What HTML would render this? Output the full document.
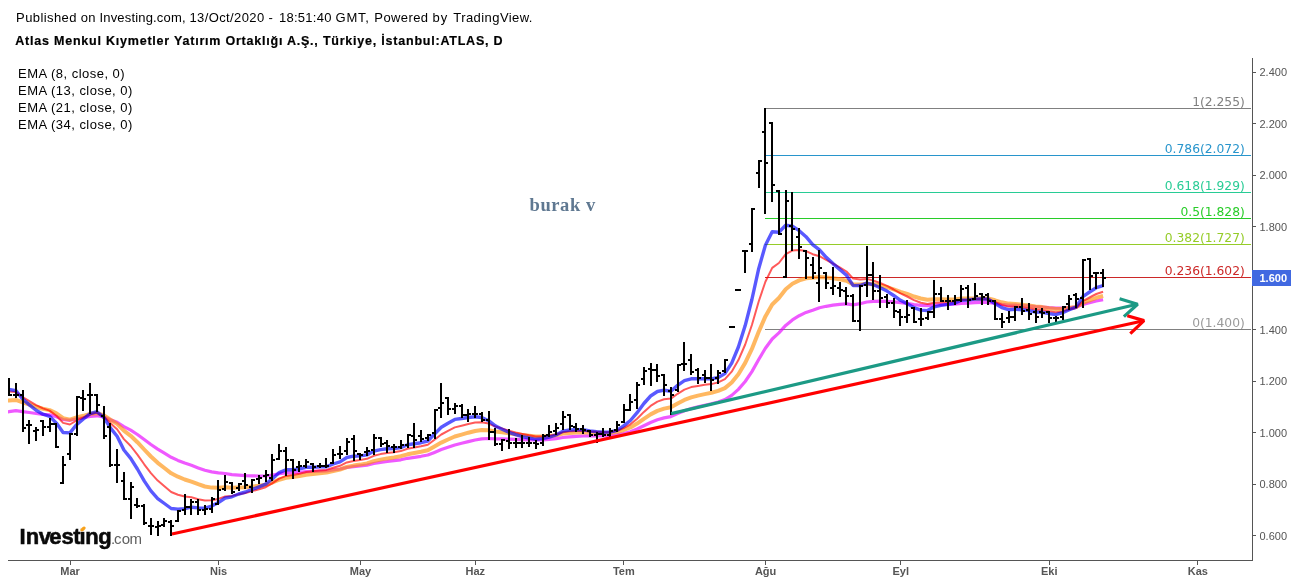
<!DOCTYPE html>
<html><head><meta charset="utf-8"><title>ATLAS chart</title>
<style>
html,body{margin:0;padding:0;background:#fff;}
body{width:1298px;height:584px;overflow:hidden;position:relative;}
svg{position:absolute;left:0;top:0;display:block;}
</style></head><body>
<svg width="1298" height="584" viewBox="0 0 1298 584">
<rect width="1298" height="584" fill="#fff"/>
<g font-family="Liberation Sans, Arial, sans-serif" fill="#000">
<text id="h1" y="21.8" font-size="13" xml:space="preserve"><tspan x="16.1" letter-spacing="0.4">Published </tspan><tspan x="80.8" letter-spacing="0.2">on </tspan><tspan x="99.5" letter-spacing="0.17">Investing.com, </tspan><tspan x="189.4" letter-spacing="0.4">13/Oct/2020 </tspan><tspan x="268.6" letter-spacing="0.3">- </tspan><tspan x="279" letter-spacing="0.26">18:51:40 </tspan><tspan x="335.5" letter-spacing="0.8">GMT, </tspan><tspan x="374.3" letter-spacing="0.41">Powered </tspan><tspan x="432.5" letter-spacing="0.9">by </tspan><tspan x="453.3" letter-spacing="0.43">TradingView.</tspan></text>
<text id="h2" x="15.3" y="44.8" font-size="12.5" font-weight="bold" letter-spacing="0.78" stroke="#000" stroke-width="0.2">Atlas Menkul Kıymetler Yatırım Ortaklığı A.Ş., Türkiye, İstanbul:ATLAS, D</text>
<text id="e1" x="18.1" y="78" font-size="13" letter-spacing="0.47">EMA (8, close, 0)</text>
<text id="e2" x="18.1" y="94.8" font-size="13" letter-spacing="0.47">EMA (13, close, 0)</text>
<text id="e3" x="18.1" y="111.8" font-size="13" letter-spacing="0.47">EMA (21, close, 0)</text>
<text id="e4" x="18.1" y="128.8" font-size="13" letter-spacing="0.47">EMA (34, close, 0)</text>
</g>
<text id="bv" x="529.5" y="210.5" font-family="Liberation Serif, Times New Roman, serif" font-weight="bold" font-size="18.5" letter-spacing="0.6" fill="#5f7891">burak v</text>
<g shape-rendering="crispEdges" stroke-width="1">
<line x1="765" y1="108.5" x2="1251" y2="108.5" stroke="#808080"/>
<line x1="765" y1="155.5" x2="1251" y2="155.5" stroke="#2895cc"/>
<line x1="765" y1="192.5" x2="1251" y2="192.5" stroke="#28cc95"/>
<line x1="765" y1="218.5" x2="1251" y2="218.5" stroke="#28cc28"/>
<line x1="765" y1="244.5" x2="1251" y2="244.5" stroke="#95cc28"/>
<line x1="765" y1="277.5" x2="1251" y2="277.5" stroke="#cc2828"/>
<line x1="765" y1="329.5" x2="1251" y2="329.5" stroke="#808080"/>
</g>
<g font-family="DejaVu Sans, Verdana, sans-serif" font-size="12.3" text-anchor="end">
<text x="1244.8" y="105.9" fill="#808080">1(2.255)</text>
<text x="1244.8" y="152.9" fill="#2895cc">0.786(2.072)</text>
<text x="1244.8" y="189.9" fill="#28cc95">0.618(1.929)</text>
<text x="1244.8" y="215.9" fill="#28cc28">0.5(1.828)</text>
<text x="1244.8" y="241.9" fill="#95cc28">0.382(1.727)</text>
<text x="1244.8" y="274.9" fill="#cc2828">0.236(1.602)</text>
<text x="1244.8" y="326.9" fill="#9a9a9a">0(1.400)</text>
</g>
<defs><clipPath id="cp"><rect x="8" y="58" width="1244" height="502"/></clipPath></defs>
<g clip-path="url(#cp)">
<g fill="none" stroke-linejoin="round" stroke-linecap="butt">
<polyline points="7,412.0 9.1,411.7 15.9,410.7 22.6,411.7 29.4,412.5 36.1,413.5 42.9,414.3 49.6,414.8 56.4,416.7 63.1,419.5 69.9,420.3 76.6,418.9 83.4,417.8 90.1,416.5 96.9,415.8 103.6,417.0 110.4,419.7 117.1,422.3 123.9,426.7 130.7,430.2 137.4,434.5 144.2,439.5 150.9,444.5 157.7,449.1 164.4,453.2 171.2,457.3 177.9,460.4 184.7,463.1 191.4,465.3 198.2,467.9 204.9,470.3 211.7,471.9 218.4,472.9 225.2,473.5 231.9,474.6 238.7,475.1 245.5,475.7 252.2,475.9 259.0,476.0 265.7,476.0 272.5,475.0 279.2,473.7 286.0,472.9 292.7,472.7 299.5,472.3 306.2,471.7 313.0,471.4 319.7,471.1 326.5,470.8 333.2,469.9 340.0,469.0 346.8,467.5 353.5,466.6 360.3,465.9 367.0,465.1 373.8,463.5 380.5,462.4 387.3,461.5 394.0,460.7 400.8,459.8 407.5,458.3 414.3,457.3 421.0,456.3 427.8,455.0 434.5,452.4 441.3,449.6 448.0,447.3 454.8,445.0 461.6,443.3 468.3,441.6 475.1,440.0 481.8,438.9 488.6,438.5 495.3,438.8 502.1,438.9 508.8,439.2 515.6,439.4 522.3,439.6 529.1,439.8 535.8,440.0 542.6,439.8 549.3,439.3 556.1,438.7 562.8,437.5 569.6,436.8 576.4,436.4 583.1,436.0 589.9,435.9 596.6,435.8 603.4,435.8 610.1,435.5 616.9,434.9 623.6,433.5 630.4,431.7 637.1,429.0 643.9,425.7 650.6,422.5 657.4,419.8 664.1,417.9 670.9,416.6 677.6,413.6 684.4,410.8 691.2,408.6 697.9,406.9 704.7,405.2 711.4,403.8 718.2,402.0 724.9,399.6 731.7,395.4 738.4,389.4 745.2,381.5 751.9,371.6 758.7,359.5 765.4,348.3 772.2,339.0 778.9,332.9 785.7,325.4 792.4,319.9 799.2,315.7 806.0,312.4 812.7,310.2 819.5,307.7 826.2,306.3 833.0,305.2 839.7,304.3 846.5,303.8 853.2,304.8 860.0,303.7 866.7,302.0 873.5,301.4 880.2,301.2 887.0,301.3 893.7,301.8 900.5,302.7 907.2,303.4 914.0,304.5 920.8,305.3 927.5,305.7 934.3,305.0 941.0,304.7 947.8,304.5 954.5,304.2 961.3,303.4 968.0,303.2 974.8,302.7 981.5,302.4 988.3,302.3 995.0,303.3 1001.8,304.3 1008.5,305.1 1015.3,305.2 1022.1,305.5 1028.8,306.0 1035.6,306.6 1042.3,307.0 1049.1,307.7 1055.8,308.2 1062.6,308.1 1069.3,307.6 1076.1,307.1 1082.8,304.4 1089.6,302.8 1096.3,301.0 1103.1,299.7" stroke="#e600ff" stroke-opacity="0.65" stroke-width="3.2"/>
<polyline points="7,400.6 9.1,400.4 15.9,399.9 22.6,402.4 29.4,404.5 36.1,406.8 42.9,408.7 49.6,410.1 56.4,413.4 63.1,418.2 69.9,419.6 76.6,417.5 83.4,415.8 90.1,413.9 96.9,413.1 103.6,415.2 110.4,419.7 117.1,423.9 123.9,430.7 130.7,435.8 137.4,442.2 144.2,449.5 150.9,456.5 157.7,462.8 164.4,468.0 171.2,473.3 177.9,476.7 184.7,479.5 191.4,481.6 198.2,484.2 204.9,486.5 211.7,487.6 218.4,487.8 225.2,487.3 231.9,487.8 238.7,487.4 245.5,487.2 252.2,486.6 259.0,485.8 265.7,484.8 272.5,482.5 279.2,479.7 286.0,477.8 292.7,477.1 299.5,476.1 306.2,474.8 313.0,474.1 319.7,473.3 326.5,472.6 333.2,471.0 340.0,469.5 346.8,467.0 353.5,465.6 360.3,464.6 367.0,463.4 373.8,461.1 380.5,459.6 387.3,458.4 394.0,457.4 400.8,456.2 407.5,454.3 414.3,453.0 421.0,451.7 427.8,450.2 434.5,446.5 441.3,442.6 448.0,439.5 454.8,436.5 461.6,434.6 468.3,432.7 475.1,431.0 481.8,430.0 488.6,430.2 495.3,431.5 502.1,432.3 508.8,433.3 515.6,434.2 522.3,435.0 529.1,435.7 535.8,436.5 542.6,436.4 549.3,436.0 556.1,435.3 562.8,433.6 569.6,433.0 576.4,432.6 583.1,432.4 589.9,432.6 596.6,432.7 603.4,432.9 610.1,432.7 616.9,432.0 623.6,430.0 630.4,427.4 637.1,423.6 643.9,418.8 650.6,414.4 657.4,410.9 664.1,408.6 670.9,407.3 677.6,403.5 684.4,399.9 691.2,397.4 697.9,395.6 704.7,394.1 711.4,392.8 718.2,390.9 724.9,388.1 731.7,382.5 738.4,374.2 745.2,362.9 751.9,348.9 758.7,331.8 765.4,316.4 772.2,304.5 778.9,298.0 785.7,289.2 792.4,283.7 799.2,280.4 806.0,278.3 812.7,277.8 819.5,276.9 826.2,277.5 833.0,278.2 839.7,279.3 846.5,280.8 853.2,284.5 860.0,284.6 866.7,283.7 873.5,284.3 880.2,285.5 887.0,287.1 893.7,289.3 900.5,291.8 907.2,293.9 914.0,296.5 920.8,298.5 927.5,299.7 934.3,299.2 941.0,299.3 947.8,299.4 954.5,299.4 961.3,298.5 968.0,298.6 974.8,298.4 981.5,298.3 988.3,298.5 995.0,300.3 1001.8,302.3 1008.5,303.6 1015.3,304.0 1022.1,304.7 1028.8,305.5 1035.6,306.5 1042.3,307.1 1049.1,308.2 1055.8,309.0 1062.6,308.8 1069.3,307.9 1076.1,307.1 1082.8,302.8 1089.6,300.3 1096.3,297.8 1103.1,296.0" stroke="#ff8c00" stroke-opacity="0.62" stroke-width="4"/>
<polyline points="7,391.4 9.1,391.5 15.9,391.9 22.6,397.1 29.4,401.2 36.1,405.2 42.9,408.4 49.6,410.6 56.4,415.8 63.1,422.9 69.9,424.5 76.6,420.5 83.4,417.4 90.1,414.2 96.9,412.8 103.6,416.2 110.4,423.2 117.1,429.2 123.9,439.1 130.7,446.0 137.4,454.6 144.2,464.3 150.9,473.1 157.7,480.6 164.4,486.3 171.2,492.0 177.9,494.7 184.7,496.5 191.4,497.3 198.2,499.2 204.9,500.6 211.7,500.3 218.4,498.9 225.2,496.5 231.9,495.9 238.7,494.3 245.5,493.0 252.2,491.1 259.0,489.2 265.7,487.2 272.5,483.2 279.2,478.7 286.0,475.9 292.7,475.1 299.5,473.8 306.2,472.0 313.0,471.3 319.7,470.5 326.5,469.9 333.2,467.7 340.0,465.8 346.8,462.4 353.5,460.9 360.3,460.0 367.0,458.8 373.8,455.8 380.5,454.1 387.3,453.0 394.0,452.2 400.8,451.1 407.5,448.8 414.3,447.6 421.0,446.3 427.8,444.7 434.5,439.7 441.3,434.5 448.0,430.9 454.8,427.4 461.6,425.7 468.3,424.0 475.1,422.6 481.8,422.2 488.6,423.6 495.3,426.5 502.1,428.5 508.8,430.6 515.6,432.4 522.3,433.9 529.1,435.3 535.8,436.5 542.6,436.4 549.3,435.8 556.1,434.6 562.8,432.2 569.6,431.3 576.4,431.0 583.1,430.8 589.9,431.4 596.6,431.8 603.4,432.2 610.1,432.0 616.9,431.0 623.6,428.0 630.4,424.3 637.1,418.7 643.9,411.9 650.6,405.9 657.4,401.6 664.1,399.3 670.9,398.6 677.6,393.8 684.4,389.6 691.2,387.1 697.9,385.9 704.7,384.8 711.4,384.1 718.2,382.4 724.9,379.2 731.7,371.7 738.4,360.1 745.2,344.5 751.9,325.0 758.7,301.5 765.4,281.7 772.2,267.9 778.9,263.0 785.7,254.1 792.4,250.6 799.2,250.1 806.0,251.1 812.7,254.2 819.5,256.2 826.2,260.0 833.0,263.7 839.7,267.4 846.5,271.5 853.2,278.6 860.0,279.6 866.7,278.9 873.5,280.6 880.2,283.0 887.0,285.9 893.7,289.5 900.5,293.4 907.2,296.5 914.0,300.1 920.8,302.8 927.5,304.1 934.3,302.7 941.0,302.4 947.8,302.1 954.5,301.7 961.3,300.0 968.0,299.9 974.8,299.3 981.5,299.1 988.3,299.3 995.0,302.0 1001.8,304.9 1008.5,306.6 1015.3,306.7 1022.1,307.4 1028.8,308.3 1035.6,309.6 1042.3,310.1 1049.1,311.3 1055.8,312.2 1062.6,311.4 1069.3,309.6 1076.1,308.0 1082.8,301.1 1089.6,297.5 1096.3,294.0 1103.1,291.7" stroke="#ff0000" stroke-opacity="0.65" stroke-width="2"/>
<polyline points="7,389.2 9.1,389.5 15.9,390.6 22.6,399.0 29.4,404.9 36.1,410.3 42.9,414.2 49.6,416.3 56.4,423.1 63.1,432.5 69.9,432.9 76.6,424.7 83.4,419.0 90.1,413.7 96.9,411.7 103.6,417.1 110.4,427.9 117.1,436.2 123.9,450.0 130.7,458.3 137.4,469.0 144.2,480.9 150.9,490.9 157.7,498.6 164.4,503.5 171.2,508.5 177.9,509.1 184.7,508.7 191.4,507.2 198.2,507.9 204.9,508.2 211.7,506.1 218.4,502.6 225.2,498.0 231.9,496.8 238.7,494.0 245.5,492.0 252.2,489.4 259.0,486.8 265.7,484.1 272.5,478.7 279.2,472.6 286.0,469.7 292.7,469.7 299.5,468.9 306.2,467.3 313.0,467.2 319.7,466.9 326.5,466.7 333.2,464.0 340.0,461.9 346.8,457.5 353.5,456.2 360.3,455.9 367.0,454.9 373.8,451.1 380.5,449.6 387.3,448.8 394.0,448.5 400.8,447.6 407.5,444.8 414.3,443.8 421.0,442.7 427.8,441.0 434.5,434.0 441.3,427.2 448.0,423.2 454.8,419.4 461.6,418.5 468.3,417.5 475.1,416.8 481.8,417.5 488.6,420.7 495.3,425.9 502.1,429.2 508.8,432.3 515.6,434.7 522.3,436.6 529.1,438.0 535.8,439.3 542.6,438.6 549.3,437.1 556.1,435.0 562.8,431.1 569.6,430.0 576.4,429.8 583.1,429.8 589.9,430.9 596.6,431.7 603.4,432.3 610.1,432.0 616.9,430.4 623.6,425.9 630.4,420.5 637.1,412.7 643.9,403.5 650.6,396.0 657.4,391.5 664.1,390.2 670.9,391.2 677.6,385.3 684.4,380.7 691.2,378.8 697.9,378.7 704.7,378.6 711.4,378.9 718.2,377.5 724.9,373.6 731.7,363.1 738.4,347.0 745.2,325.6 751.9,299.5 758.7,268.7 765.4,245.2 772.2,231.8 778.9,232.2 785.7,225.2 792.4,226.1 799.2,230.7 806.0,236.7 812.7,244.7 819.5,249.9 826.2,257.3 833.0,263.6 839.7,269.4 846.5,275.3 853.2,285.6 860.0,285.5 866.7,283.1 873.5,284.8 880.2,287.7 887.0,291.1 893.7,295.5 900.5,300.3 907.2,303.6 914.0,307.6 920.8,310.1 927.5,310.6 934.3,306.8 941.0,305.4 947.8,304.4 954.5,303.3 961.3,300.2 968.0,300.0 974.8,299.1 981.5,298.8 988.3,299.2 995.0,303.5 1001.8,307.6 1008.5,309.7 1015.3,309.2 1022.1,309.7 1028.8,310.6 1035.6,312.0 1042.3,312.3 1049.1,313.6 1055.8,314.6 1062.6,312.7 1069.3,309.7 1076.1,307.2 1082.8,296.7 1089.6,292.0 1096.3,287.7 1103.1,285.6" stroke="#0000ff" stroke-opacity="0.65" stroke-width="3.4"/>
</g>
<path id="bars" fill="#000" shape-rendering="crispEdges" d="M8 378h2v18h-2zM6 390h2v2h-2zM10 394h2v2h-2zM15 383h2v15h-2zM13 394h2v2h-2zM17 394h2v2h-2zM22 390h2v42h-2zM20 394h2v2h-2zM24 427h2v2h-2zM28 420h2v24h-2zM26 424h2v2h-2zM30 424h2v2h-2zM35 427h2v14h-2zM33 430h2v2h-2zM37 429h2v2h-2zM42 420h2v16h-2zM40 420h2v2h-2zM44 426h2v2h-2zM49 418h2v14h-2zM47 426h2v2h-2zM51 423h2v2h-2zM55 423h2v25h-2zM53 423h2v2h-2zM57 446h2v2h-2zM62 456h2v28h-2zM60 482h2v2h-2zM64 464h2v2h-2zM69 433h2v27h-2zM67 453h2v2h-2zM71 433h2v2h-2zM76 396h2v40h-2zM74 433h2v2h-2zM78 396h2v2h-2zM82 390h2v21h-2zM80 397h2v2h-2zM84 398h2v2h-2zM89 383h2v31h-2zM87 394h2v2h-2zM91 394h2v2h-2zM96 394h2v18h-2zM94 394h2v2h-2zM98 404h2v2h-2zM103 406h2v33h-2zM101 415h2v2h-2zM105 435h2v2h-2zM109 423h2v44h-2zM107 426h2v2h-2zM111 464h2v2h-2zM116 449h2v34h-2zM114 464h2v2h-2zM118 464h2v2h-2zM123 472h2v28h-2zM121 480h2v2h-2zM125 498h2v2h-2zM130 482h2v37h-2zM128 498h2v2h-2zM132 486h2v2h-2zM136 498h2v10h-2zM134 504h2v2h-2zM138 505h2v2h-2zM143 504h2v21h-2zM141 505h2v2h-2zM145 522h2v2h-2zM150 518h2v17h-2zM148 525h2v2h-2zM152 525h2v2h-2zM157 521h2v15h-2zM155 526h2v2h-2zM159 525h2v2h-2zM163 518h2v9h-2zM161 524h2v2h-2zM165 520h2v2h-2zM170 520h2v16h-2zM168 521h2v2h-2zM172 525h2v2h-2zM177 510h2v12h-2zM175 520h2v2h-2zM179 510h2v2h-2zM184 494h2v21h-2zM182 509h2v2h-2zM186 506h2v2h-2zM190 499h2v16h-2zM188 506h2v2h-2zM192 501h2v2h-2zM197 499h2v16h-2zM195 501h2v2h-2zM199 509h2v2h-2zM204 505h2v10h-2zM202 509h2v2h-2zM206 508h2v2h-2zM211 497h2v16h-2zM209 508h2v2h-2zM213 498h2v2h-2zM217 480h2v25h-2zM215 503h2v2h-2zM219 489h2v2h-2zM224 475h2v16h-2zM222 488h2v2h-2zM226 481h2v2h-2zM231 482h2v12h-2zM229 482h2v2h-2zM233 491h2v2h-2zM238 483h2v8h-2zM236 487h2v2h-2zM240 483h2v2h-2zM244 473h2v16h-2zM242 480h2v2h-2zM246 484h2v2h-2zM251 479h2v14h-2zM249 486h2v2h-2zM253 479h2v2h-2zM258 475h2v9h-2zM256 478h2v2h-2zM260 477h2v2h-2zM265 470h2v12h-2zM263 475h2v2h-2zM267 474h2v2h-2zM271 454h2v27h-2zM269 477h2v2h-2zM273 459h2v2h-2zM278 444h2v16h-2zM276 458h2v2h-2zM280 450h2v2h-2zM285 447h2v29h-2zM283 450h2v2h-2zM287 459h2v2h-2zM292 459h2v20h-2zM290 459h2v2h-2zM294 469h2v2h-2zM298 461h2v11h-2zM296 466h2v2h-2zM300 465h2v2h-2zM305 459h2v9h-2zM303 465h2v2h-2zM307 461h2v2h-2zM312 463h2v9h-2zM310 463h2v2h-2zM314 466h2v2h-2zM319 463h2v5h-2zM317 465h2v2h-2zM321 465h2v2h-2zM325 458h2v10h-2zM323 465h2v2h-2zM327 465h2v2h-2zM332 449h2v15h-2zM330 462h2v2h-2zM334 454h2v2h-2zM339 446h2v13h-2zM337 453h2v2h-2zM341 453h2v2h-2zM346 438h2v17h-2zM344 450h2v2h-2zM348 441h2v2h-2zM353 435h2v26h-2zM351 438h2v2h-2zM355 450h2v2h-2zM359 453h2v7h-2zM357 453h2v2h-2zM361 454h2v2h-2zM366 447h2v9h-2zM364 451h2v2h-2zM368 450h2v2h-2zM373 434h2v21h-2zM371 449h2v2h-2zM375 437h2v2h-2zM380 437h2v10h-2zM378 437h2v2h-2zM382 443h2v2h-2zM386 440h2v13h-2zM384 442h2v2h-2zM388 445h2v2h-2zM393 444h2v9h-2zM391 446h2v2h-2zM395 446h2v2h-2zM400 440h2v9h-2zM398 446h2v2h-2zM402 444h2v2h-2zM407 434h2v14h-2zM405 444h2v2h-2zM409 434h2v2h-2zM413 423h2v25h-2zM411 435h2v2h-2zM415 439h2v2h-2zM420 430h2v12h-2zM418 435h2v2h-2zM422 438h2v2h-2zM427 434h2v7h-2zM425 437h2v2h-2zM429 434h2v2h-2zM434 409h2v30h-2zM432 432h2v2h-2zM436 409h2v2h-2zM440 383h2v35h-2zM438 407h2v2h-2zM442 402h2v2h-2zM447 397h2v18h-2zM445 397h2v2h-2zM449 408h2v2h-2zM454 403h2v11h-2zM452 408h2v2h-2zM456 405h2v2h-2zM461 404h2v14h-2zM459 405h2v2h-2zM463 414h2v2h-2zM467 409h2v13h-2zM465 414h2v2h-2zM469 413h2v2h-2zM474 406h2v12h-2zM472 413h2v2h-2zM476 413h2v2h-2zM481 412h2v10h-2zM479 413h2v2h-2zM483 419h2v2h-2zM488 411h2v29h-2zM486 419h2v2h-2zM490 431h2v2h-2zM494 428h2v18h-2zM492 431h2v2h-2zM496 443h2v2h-2zM501 439h2v12h-2zM499 443h2v2h-2zM503 439h2v2h-2zM508 429h2v20h-2zM506 440h2v2h-2zM510 442h2v2h-2zM515 438h2v10h-2zM513 442h2v2h-2zM517 442h2v2h-2zM521 435h2v13h-2zM519 442h2v2h-2zM523 442h2v2h-2zM528 437h2v10h-2zM526 442h2v2h-2zM530 442h2v2h-2zM535 440h2v9h-2zM533 442h2v2h-2zM537 443h2v2h-2zM542 434h2v12h-2zM540 442h2v2h-2zM544 435h2v2h-2zM548 425h2v12h-2zM546 434h2v2h-2zM550 431h2v2h-2zM555 423h2v12h-2zM553 430h2v2h-2zM557 427h2v2h-2zM562 411h2v19h-2zM560 423h2v2h-2zM564 416h2v2h-2zM569 414h2v16h-2zM567 414h2v2h-2zM571 425h2v2h-2zM575 423h2v9h-2zM573 426h2v2h-2zM577 428h2v2h-2zM582 425h2v9h-2zM580 428h2v2h-2zM584 429h2v2h-2zM589 430h2v7h-2zM587 430h2v2h-2zM591 434h2v2h-2zM596 432h2v11h-2zM594 434h2v2h-2zM598 433h2v2h-2zM602 428h2v9h-2zM600 433h2v2h-2zM604 434h2v2h-2zM609 428h2v11h-2zM607 434h2v2h-2zM611 430h2v2h-2zM616 421h2v11h-2zM614 429h2v2h-2zM618 424h2v2h-2zM623 404h2v19h-2zM621 421h2v2h-2zM625 409h2v2h-2zM629 394h2v17h-2zM627 409h2v2h-2zM631 401h2v2h-2zM636 382h2v27h-2zM634 399h2v2h-2zM638 384h2v2h-2zM643 367h2v18h-2zM641 378h2v2h-2zM645 370h2v2h-2zM650 363h2v23h-2zM648 368h2v2h-2zM652 369h2v2h-2zM656 364h2v18h-2zM654 369h2v2h-2zM658 375h2v2h-2zM663 374h2v22h-2zM661 374h2v2h-2zM665 384h2v2h-2zM670 387h2v28h-2zM668 390h2v2h-2zM672 394h2v2h-2zM677 364h2v28h-2zM675 389h2v2h-2zM679 364h2v2h-2zM683 342h2v29h-2zM681 363h2v2h-2zM685 363h2v2h-2zM690 354h2v21h-2zM688 359h2v2h-2zM692 371h2v2h-2zM697 368h2v16h-2zM695 369h2v2h-2zM699 377h2v2h-2zM704 370h2v13h-2zM702 374h2v2h-2zM706 377h2v2h-2zM710 364h2v27h-2zM708 377h2v2h-2zM712 379h2v2h-2zM717 370h2v14h-2zM715 377h2v2h-2zM719 372h2v2h-2zM724 359h2v14h-2zM722 370h2v2h-2zM726 359h2v2h-2zM729 326h6v2h-6zM735 289h6v2h-6zM744 250h2v23h-2zM742 250h2v2h-2zM746 250h2v2h-2zM751 208h2v44h-2zM749 243h2v2h-2zM753 208h2v2h-2zM758 160h2v28h-2zM756 172h2v2h-2zM760 160h2v2h-2zM764 108h2v106h-2zM762 131h2v2h-2zM766 162h2v2h-2zM771 122h2v80h-2zM769 122h2v2h-2zM773 184h2v2h-2zM778 190h2v45h-2zM776 190h2v2h-2zM780 233h2v2h-2zM785 190h2v88h-2zM783 276h2v2h-2zM787 200h2v2h-2zM791 192h2v59h-2zM789 225h2v2h-2zM793 228h2v2h-2zM798 228h2v31h-2zM796 236h2v2h-2zM800 246h2v2h-2zM805 250h2v29h-2zM803 250h2v2h-2zM807 257h2v2h-2zM812 257h2v22h-2zM810 264h2v2h-2zM814 272h2v2h-2zM818 250h2v52h-2zM816 282h2v2h-2zM820 267h2v2h-2zM825 272h2v17h-2zM823 272h2v2h-2zM827 282h2v2h-2zM832 267h2v28h-2zM830 287h2v2h-2zM834 285h2v2h-2zM839 282h2v15h-2zM837 287h2v2h-2zM841 289h2v2h-2zM845 287h2v18h-2zM843 290h2v2h-2zM847 295h2v2h-2zM852 294h2v28h-2zM850 295h2v2h-2zM854 320h2v2h-2zM859 285h2v46h-2zM857 320h2v2h-2zM861 285h2v2h-2zM866 246h2v51h-2zM864 284h2v2h-2zM868 274h2v2h-2zM872 262h2v38h-2zM870 274h2v2h-2zM874 290h2v2h-2zM879 275h2v33h-2zM877 290h2v2h-2zM881 297h2v2h-2zM886 294h2v14h-2zM884 296h2v2h-2zM888 302h2v2h-2zM893 298h2v20h-2zM891 302h2v2h-2zM895 310h2v2h-2zM899 309h2v17h-2zM897 311h2v2h-2zM901 316h2v2h-2zM906 300h2v23h-2zM904 316h2v2h-2zM908 314h2v2h-2zM913 307h2v16h-2zM911 307h2v2h-2zM915 321h2v2h-2zM920 308h2v18h-2zM918 318h2v2h-2zM922 318h2v2h-2zM927 311h2v9h-2zM925 317h2v2h-2zM929 311h2v2h-2zM933 280h2v38h-2zM931 311h2v2h-2zM935 293h2v2h-2zM940 287h2v15h-2zM938 293h2v2h-2zM942 300h2v2h-2zM947 295h2v15h-2zM945 300h2v2h-2zM949 300h2v2h-2zM954 295h2v10h-2zM952 300h2v2h-2zM956 299h2v2h-2zM960 285h2v17h-2zM958 299h2v2h-2zM962 288h2v2h-2zM967 285h2v23h-2zM965 287h2v2h-2zM969 299h2v2h-2zM974 283h2v17h-2zM972 298h2v2h-2zM976 295h2v2h-2zM981 293h2v12h-2zM979 293h2v2h-2zM983 296h2v2h-2zM987 293h2v12h-2zM985 294h2v2h-2zM989 300h2v2h-2zM994 300h2v20h-2zM992 300h2v2h-2zM996 318h2v2h-2zM1001 313h2v15h-2zM999 318h2v2h-2zM1003 321h2v2h-2zM1008 311h2v12h-2zM1006 317h2v2h-2zM1010 316h2v2h-2zM1014 306h2v15h-2zM1012 316h2v2h-2zM1016 306h2v2h-2zM1021 298h2v17h-2zM1019 306h2v2h-2zM1023 310h2v2h-2zM1028 303h2v17h-2zM1026 309h2v2h-2zM1030 313h2v2h-2zM1035 308h2v15h-2zM1033 311h2v2h-2zM1037 316h2v2h-2zM1041 308h2v10h-2zM1039 311h2v2h-2zM1043 312h2v2h-2zM1048 311h2v12h-2zM1046 311h2v2h-2zM1050 317h2v2h-2zM1055 316h2v7h-2zM1053 317h2v2h-2zM1057 317h2v2h-2zM1062 306h2v14h-2zM1060 316h2v2h-2zM1064 306h2v2h-2zM1068 295h2v15h-2zM1066 303h2v2h-2zM1070 298h2v2h-2zM1075 293h2v15h-2zM1073 294h2v2h-2zM1077 298h2v2h-2zM1082 259h2v49h-2zM1080 297h2v2h-2zM1084 259h2v2h-2zM1089 258h2v32h-2zM1087 258h2v2h-2zM1091 275h2v2h-2zM1095 272h2v17h-2zM1093 272h2v2h-2zM1097 272h2v2h-2zM1102 269h2v18h-2zM1100 272h2v2h-2zM1104 277h2v2h-2z"/>
</g>
<g fill="none" stroke-width="3.2" stroke-linecap="butt" stroke-linejoin="bevel">
<path d="M671.2 413.6L1137.1 304.3" stroke="#1c9a85"/>
<path d="M1119.6 298.8L1137.6 304.2L1123.9 316.6" stroke="#1c9a85"/>
<path d="M172 534L1143.6 320.8" stroke="#f00"/>
<path d="M1127.3 315.8L1144 320.6L1130.3 333.6" stroke="#f00"/>
</g>
<g stroke="#555" stroke-width="1" fill="none" shape-rendering="crispEdges">
<path d="M1252.5 58V561M8 560.5H1253"/>
<line x1="1253" x2="1256" y1="72.5" y2="72.5"/>
<line x1="1253" x2="1256" y1="123.5" y2="123.5"/>
<line x1="1253" x2="1256" y1="175.5" y2="175.5"/>
<line x1="1253" x2="1256" y1="226.5" y2="226.5"/>
<line x1="1253" x2="1256" y1="278.5" y2="278.5"/>
<line x1="1253" x2="1256" y1="329.5" y2="329.5"/>
<line x1="1253" x2="1256" y1="381.5" y2="381.5"/>
<line x1="1253" x2="1256" y1="432.5" y2="432.5"/>
<line x1="1253" x2="1256" y1="484.5" y2="484.5"/>
<line x1="1253" x2="1256" y1="535.5" y2="535.5"/>
<line x1="70.5" x2="70.5" y1="561" y2="565"/>
<line x1="218.5" x2="218.5" y1="561" y2="565"/>
<line x1="360.5" x2="360.5" y1="561" y2="565"/>
<line x1="475.5" x2="475.5" y1="561" y2="565"/>
<line x1="623.5" x2="623.5" y1="561" y2="565"/>
<line x1="765.5" x2="765.5" y1="561" y2="565"/>
<line x1="900.5" x2="900.5" y1="561" y2="565"/>
<line x1="1049.5" x2="1049.5" y1="561" y2="565"/>
<line x1="1197.5" x2="1197.5" y1="561" y2="565"/>
</g>
<g font-family="Liberation Sans, Arial, sans-serif" font-size="11" fill="#555">
<text x="1259.5" y="76.0">2.400</text>
<text x="1259.5" y="127.5">2.200</text>
<text x="1259.5" y="179.0">2.000</text>
<text x="1259.5" y="230.5">1.800</text>
<text x="1259.5" y="282.0">1.600</text>
<text x="1259.5" y="333.5">1.400</text>
<text x="1259.5" y="385.0">1.200</text>
<text x="1259.5" y="436.5">1.000</text>
<text x="1259.5" y="488.0">0.800</text>
<text x="1259.5" y="539.5">0.600</text>
</g>
<g font-family="Liberation Sans, Arial, sans-serif" font-size="11" font-weight="bold" fill="#555" text-anchor="middle">
<text x="70.1" y="574.8">Mar</text>
<text x="218.6" y="574.8">Nis</text>
<text x="360.5" y="574.8">May</text>
<text x="475.3" y="574.8">Haz</text>
<text x="623.8" y="574.8">Tem</text>
<text x="765.6" y="574.8">Ağu</text>
<text x="900.7" y="574.8">Eyl</text>
<text x="1049.3" y="574.8">Eki</text>
<text x="1197.8" y="574.8">Kas</text>
</g>
<rect x="1252" y="270" width="39" height="16" fill="#4169e1"/>
<text x="1259.5" y="282.2" font-family="Liberation Sans, Arial, sans-serif" font-size="11" font-weight="bold" fill="#fff">1.600</text>
<g font-family="Liberation Sans, Arial, sans-serif">
<text id="lg1" x="19.6 25.85 38.8 49.2 61.5 73.15 79.6 85.35 98.3" y="543.7" font-size="22" font-weight="bold" fill="#0a0a0a" stroke="#0a0a0a" stroke-width="0.55">Investing</text>
<text id="lg2" x="110.9 113.95 121.7 129.5" y="543.7" font-size="15" fill="#606060">.com</text>
<rect id="cov" x="80.3" y="525" width="5.6" height="6.4" fill="#fff"/>
<ellipse cx="83" cy="529" rx="3.1" ry="1.7" transform="rotate(-42 83 529)" fill="#f8a21c"/>
</g>
</svg>
</body></html>
